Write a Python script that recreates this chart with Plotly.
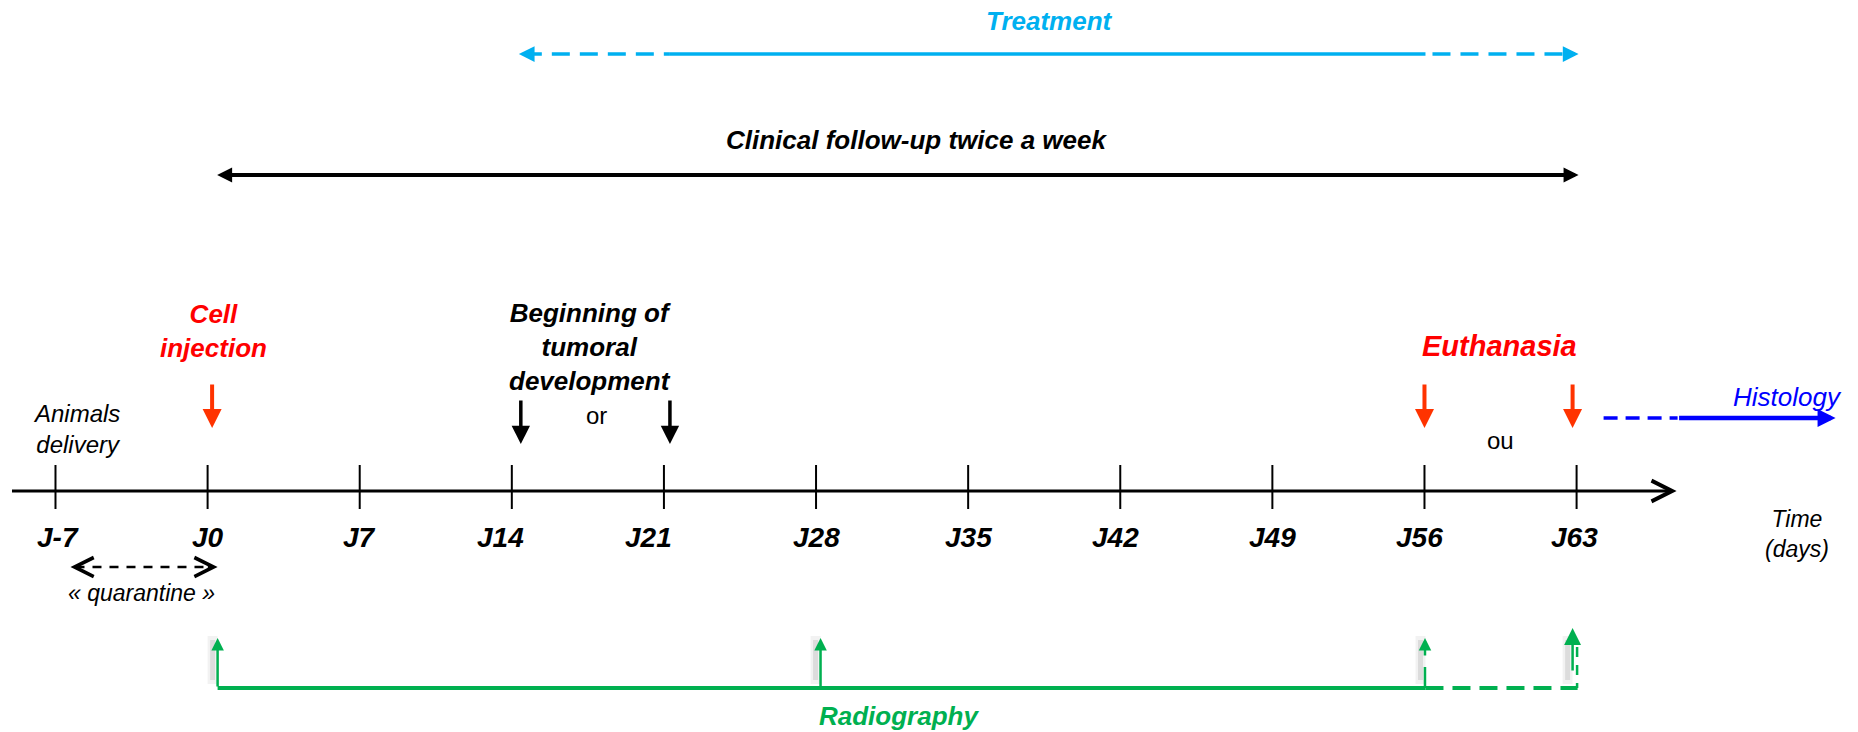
import plotly.graph_objects as go

# ---------------- data ----------------
week_days = [-7, 0, 7, 14, 21, 28, 35, 42, 49, 56, 63]
week_labels = ["J-7", "J0", "J7", "J14", "J21", "J28", "J35", "J42", "J49", "J56", "J63"]
quarantine_days = [-7, 0]
cell_injection_days = [0]
tumor_onset_days = [14, 21]
euthanasia_days = [56, 63]
clinical_followup_days = [0, 63]
treatment_days = [14, 21, 56, 63]       # uncertain start, sure start, sure end, uncertain end
radiography_days = [0, 28, 56, 63]
histology_start_day = 63

# ---------------- layout helpers ----------------
W, H = 1858, 732
X0_PX = 207.6          # pixel position of J0
PX_PER_DAY = 21.73
FONT = "Liberation Sans, Arial, sans-serif"

BLACK = "#000000"
RED_TXT = "#FF0000"
RED_ARR = "#FF3300"
CYAN = "#00B0F0"
GREEN = "#00B050"
BLUE = "#0000FF"


def nd(px):
    """pixel nudge -> days"""
    return px / PX_PER_DAY


def d(px):
    """absolute pixel -> day coordinate"""
    return (px - X0_PX) / PX_PER_DAY


fig = go.Figure()


def line(xs, ys, color, width, dash="solid"):
    fig.add_trace(go.Scatter(x=xs, y=ys, mode="lines",
                             line=dict(color=color, width=width, dash=dash),
                             hoverinfo="skip", showlegend=False))


def arrow(x, y, ax, ay, color, width, size, head=2, side="end"):
    fig.add_annotation(x=x, y=y, ax=ax, ay=ay, xref="x", yref="y", axref="x", ayref="y",
                       text="", showarrow=True, arrowhead=head, arrowsize=size,
                       arrowwidth=width, arrowcolor=color, arrowside=side,
                       startarrowhead=head, startarrowsize=size, standoff=0, startstandoff=0)


def text(x, y, s, size, color=BLACK, bold=False, italic=False, anchor="center"):
    fig.add_annotation(x=x, y=y, xref="x", yref="y", text=s, showarrow=False,
                       font=dict(family=FONT, size=size, color=color,
                                 weight="bold" if bold else "normal",
                                 style="italic" if italic else "normal"),
                       xanchor=anchor, yanchor="middle", align="center")


# ---------------- treatment ----------------
Y_TREAT = 54
t0, t1, t2, t3 = treatment_days
line([t0 + nd(12), t1 + nd(6)], [Y_TREAT, Y_TREAT], CYAN, 3.5, "18px,10px")
line([t1 + nd(6), t2 + nd(1)], [Y_TREAT, Y_TREAT], CYAN, 3.5)
line([t2 + nd(8), t3 - nd(2)], [Y_TREAT, Y_TREAT], CYAN, 3.5, "18px,10px")
arrow(t0 + nd(7), Y_TREAT, t0 + nd(20), Y_TREAT, CYAN, 3.5, 0.9)
arrow(t3 + nd(2), Y_TREAT, t3 - nd(10), Y_TREAT, CYAN, 3.5, 0.9)
text(d(1049), 21, "Treatment", 26, CYAN, bold=True, italic=True)

# ---------------- clinical follow-up ----------------
Y_CLIN = 175
c0, c1 = clinical_followup_days
arrow(c1 + nd(2), Y_CLIN, c0 + nd(8), Y_CLIN, BLACK, 4, 0.75, side="end+start")
text(d(917), 140, "Clinical follow-up twice a week", 26, bold=True, italic=True)

# ---------------- time axis ----------------
Y_AX = 491
arrow(week_days[-1] + nd(100), Y_AX, week_days[0] - nd(45), Y_AX, BLACK, 3, 1.35, head=5)
tx, ty = [], []
for wd in week_days:
    tx += [wd, wd, None]
    ty += [465, 509, None]
line(tx, ty, BLACK, 2)
label_nudge = {"J-7": 3, "J14": -11, "J21": -15, "J42": -5, "J56": -5, "J63": -2}
for wd, lab in zip(week_days, week_labels):
    text(wd + nd(label_nudge.get(lab, 0)), 537, lab, 28, bold=True, italic=True)
text(d(1797), 534, "Time<br>(days)", 23, italic=True)

# ---------------- animals delivery / quarantine ----------------
text(d(77), 429, "Animals<br>delivery", 24, italic=True)
Y_Q = 567
q0, q1 = quarantine_days
line([q0 + nd(20), q1 + nd(4)], [Y_Q, Y_Q], BLACK, 2.5, "9px,8px")
arrow(q0 + nd(15), Y_Q, q0 + nd(25), Y_Q, BLACK, 2.5, 1.5, head=5)
arrow(q1 + nd(10), Y_Q, q1, Y_Q, BLACK, 2.5, 1.5, head=5)
text(d(141), 593, "«\u00a0quarantine\u00a0»", 23, italic=True)

# ---------------- cell injection ----------------
for cd in cell_injection_days:
    arrow(cd + nd(4.5), 428, cd + nd(4.5), 383, RED_ARR, 4, 0.95)
text(d(213), 331, "Cell<br>injection", 26, RED_TXT, bold=True, italic=True)

# ---------------- tumoral development ----------------
for td, n in zip(tumor_onset_days, [9, 6]):
    arrow(td + nd(n), 444, td + nd(n), 399, BLACK, 3.5, 1.05)
text(d(590), 347, "Beginning of<br>tumoral<br>development", 26, bold=True, italic=True)
text(d(596), 415, "or", 24)

# ---------------- euthanasia ----------------
for ed, n in zip(euthanasia_days, [0, -4]):
    arrow(ed + nd(n), 428, ed + nd(n), 383, RED_ARR, 4, 0.95)
text(d(1499), 346, "Euthanasia", 29, RED_TXT, bold=True, italic=True)
text(d(1500), 440, "ou", 24)

# ---------------- histology ----------------
Y_H = 418
h = histology_start_day
line([h + nd(27), h + nd(101)], [Y_H, Y_H], BLUE, 3.5, "14px,8px")
arrow(h + nd(259), Y_H, h + nd(101), Y_H, BLUE, 4.5, 0.8)
text(d(1787), 397, "Histology", 26, BLUE, italic=True)

# ---------------- radiography ----------------
Y_R = 688
r0, r1, r2, r3 = radiography_days
# soft blurred shadows
for rd, n in zip(radiography_days, [5, -0.5, -4, -9]):
    line([rd + nd(n), rd + nd(n)], [636, 684], "rgba(0,0,0,0.05)", 10)
    line([rd + nd(n), rd + nd(n)], [640, 680], "rgba(0,0,0,0.09)", 5)
line([r0 + nd(10), r2 + nd(1)], [Y_R, Y_R], GREEN, 4)
line([r2 + nd(1), r3 + nd(1)], [Y_R, Y_R], GREEN, 4, "18px,9px")
arrow(r0 + nd(10), 638, r0 + nd(10), Y_R, GREEN, 2.5, 1.0)
arrow(r1 + nd(4.5), 638, r1 + nd(4.5), Y_R, GREEN, 2.5, 1.0)
line([r2 + nd(0.5), r2 + nd(0.5)], [667, Y_R], GREEN, 2.5)
arrow(r2 + nd(0.5), 638, r2 + nd(0.5), 657, GREEN, 2.5, 1.0)
line([r3 + nd(0.5), r3 + nd(0.5)], [647, Y_R], GREEN, 2.5, "10px,8px")
arrow(r3 - nd(4), 628, r3 - nd(4), 672, GREEN, 2.5, 1.35)
text(d(899), 716, "Radiography", 26, GREEN, bold=True, italic=True)

fig.update_layout(
    width=W, height=H,
    margin=dict(l=0, r=0, t=0, b=0),
    paper_bgcolor="white", plot_bgcolor="white",
    xaxis=dict(range=[d(0), d(W)], visible=False, fixedrange=True),
    yaxis=dict(range=[H, 0], visible=False, fixedrange=True),
    showlegend=False,
)

fig.write_html("out.html", config={"displayModeBar": False},
               post_script="document.body.style.margin='0';document.body.style.overflow='hidden';")
